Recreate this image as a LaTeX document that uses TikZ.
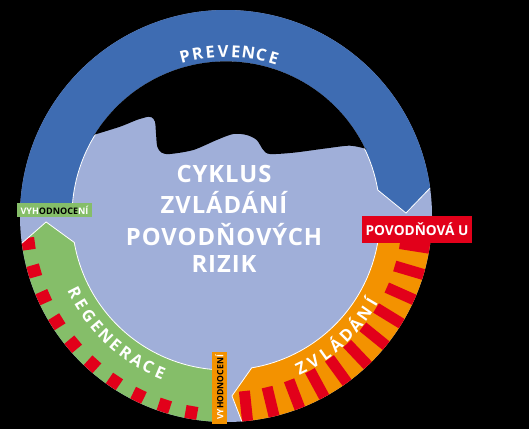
\documentclass[tikz,border=0pt]{standalone}
\usepackage{fontspec}
\setmainfont{Open Sans}
\newfontfamily\ctrfont{Open Sans}[LetterSpace=4]
\definecolor{bluec}{RGB}{62,108,178}
\definecolor{discc}{RGB}{160,175,217}
\definecolor{greenc}{RGB}{133,190,105}
\definecolor{orangec}{RGB}{243,146,0}
\definecolor{redc}{RGB}{226,0,26}
\tikzset{
  arctext/.style={text=white, font=\fontsize{16.5}{17}\selectfont\bfseries, inner sep=0pt, anchor=base},
  ctrtext/.style={text=white, font=\fontsize{23.8}{25}\ctrfont\bfseries, inner sep=0pt, anchor=base},
  edgeline/.style={draw=white, line width=0.8pt},
  labelbox/.style={inner sep=0pt, text=white}
}
\begin{document}
\begin{tikzpicture}[x=1pt,y=1pt]
\useasboundingbox (-226,-213) rectangle (303,216);
\fill[black] (-226,-213) rectangle (303,216);
% light disc
\fill[discc] (0,0) circle (206);
% arrows
\fill[bluec] (176.4:206) arc[start angle=176.4,end angle=7.8,radius=206] -- (0.95:180) -- (9.7:154) arc[start angle=9.7,end angle=175.2,radius=154] -- cycle;
\draw[edgeline] (7.8:206) -- (0.95:180) -- (9.7:154) arc[start angle=9.7,end angle=175.2,radius=154];
\fill[greenc] (266.1:206) arc[start angle=266.1,end angle=187.6,radius=206] -- (181.9:180) -- (189.9:154) arc[start angle=189.9,end angle=264.9,radius=154] -- cycle;
\begin{scope}
\clip (266.1:206) arc[start angle=266.1,end angle=187.6,radius=206] -- (181.9:180) -- (189.9:154) arc[start angle=189.9,end angle=264.9,radius=154] -- cycle;
\foreach \a in {188,196,...,260} \fill[redc,rotate=\a] (193,-6) rectangle (212,6);
\end{scope}
\draw[edgeline] (187.6:206) -- (181.9:180) -- (189.9:154) arc[start angle=189.9,end angle=264.9,radius=154];
\fill[orangec] (-4:206) arc[start angle=-4,end angle=-85.6,radius=206] -- (-88.1:180) -- (-80.4:154) arc[start angle=-80.4,end angle=-4,radius=154] -- cycle;
\begin{scope}
\clip (-4:206) arc[start angle=-4,end angle=-85.6,radius=206] -- (-88.1:180) -- (-80.4:154) arc[start angle=-80.4,end angle=-4,radius=154] -- cycle;
\foreach \a in {-9,-16.5,...,-84.5} \fill[redc,rotate=\a] (176,-5.5) rectangle (212,5.5);
\end{scope}
\draw[edgeline] (-85.6:206) -- (-88.1:180) -- (-80.4:154) arc[start angle=-80.4,end angle=-4,radius=154];
% black area above the wave
\fill[black] (148.6:154.6) -- plot[smooth,tension=0.5] coordinates {(-132.7,81) (-106,89.3) (-89.3,96) (-77.7,99.3) (-74.3,98.7) (-71,94.3) (-70,82.7) (-68.7,69.3) (-64.3,63.3) (-56,62) (-32.7,66) (-9.3,76) (7.3,82) (20.7,81) (30.7,76) (37.3,66) (44,62) (67.3,63.3) (100.7,67.7) (124,70.3) (140.7,67)} -- (25.5:154.6) arc[start angle=25.5,end angle=148.6,radius=154.6] -- cycle;
% arc texts
\foreach \ch [count=\i from 0] in {P,R,E,V,E,N,C,E} {
  \pgfmathsetmacro\ang{104.4-\i*4.457}
  \pgfmathsetmacro\rot{\ang-90}
  \node[arctext, rotate=\rot] (prev\i) at (\ang:159) {\ch};
}
\foreach \ch [count=\i from 0] in {R,E,G,E,N,E,R,A,C,E} {
  \pgfmathsetmacro\ang{207+\i*4.467}
  \pgfmathsetmacro\rot{\ang+90}
  \node[arctext, rotate=\rot] (reg\i) at (\ang:175.5) {\ch};
}
\foreach \ch [count=\i from 0] in {Z,V,L,Á,D,Á,N,Í} {
  \pgfmathsetmacro\ang{-63.7+\i*4.729}
  \pgfmathsetmacro\rot{\ang+90}
  \node[arctext, rotate=\rot] (zvl\i) at (\ang:175.5) {\ch};
}
% centre text
\node[ctrtext] (t1) at (-2,34) {CYKLUS};
\node[ctrtext] (t2) at (-2,3) {ZVLÁDÁNÍ};
\node[ctrtext] (t3) at (-2,-29) {POVODŇOVÝCH};
\node[ctrtext] (t4) at (-2,-56) {RIZIK};
% labels
\node[labelbox, fill=greenc, minimum width=75pt, minimum height=14pt, font=\fontsize{9}{10}\selectfont\bfseries] (lvyh) at (-171.5,6) {VYH\textcolor{black}{ODNOCE}NÍ};
\node[labelbox, fill=redc, minimum width=110pt, minimum height=27pt, font=\fontsize{13.7}{14}\selectfont\bfseries] (lpov) at (191,-13.5) {POVODŇOVÁ U};
\node[labelbox, fill=orangec, rotate=90, minimum width=72pt, minimum height=15pt, font=\fontsize{8.6}{10}\selectfont\bfseries] (lvy) at (-6.5,-171.5) {VY\textcolor{black}{HODNOCEN}Í};
\end{tikzpicture}
\end{document}
